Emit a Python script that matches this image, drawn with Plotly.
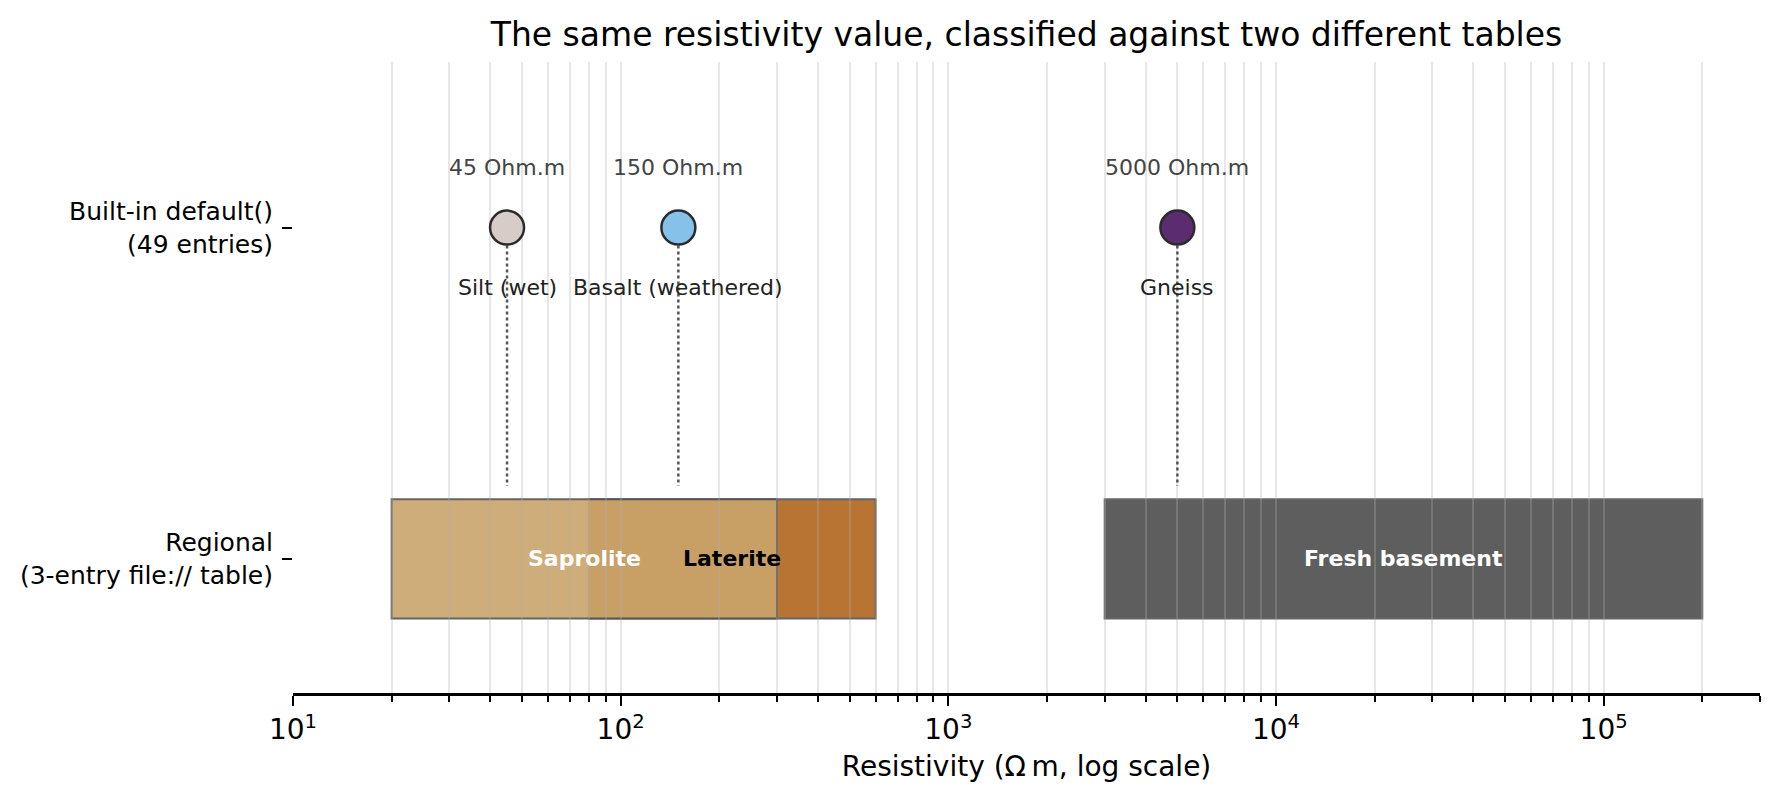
import numpy as np
import plotly.graph_objects as go

# values classified against the built-in table
values = [45, 150, 5000]
rock_names = ['Silt (wet)', 'Basalt (weathered)', 'Gneiss']
rock_colors = ['#d7ccc8', '#85c1e9', '#5b2c6f']

# regional 3-entry table (drawn in this order)
units = ['Laterite', 'Saprolite', 'Fresh basement']
unit_lo = [80, 20, 3000]
unit_hi = [600, 300, 200000]
unit_colors = ['#b1651d', '#caa56c', '#4d4d4d']
unit_text_colors = ['black', 'white', 'white']

row_labels = ['Regional<br>(3-entry file:// table)', 'Built-in default()<br>(49 entries)']
decades = [10, 100, 1000, 10000, 100000]
decade_labels = ['10<sup>1</sup>', '10<sup>2</sup>', '10<sup>3</sup>', '10<sup>4</sup>', '10<sup>5</sup>']

FONT = 'DejaVu Sans'
grid = 'rgba(175,175,175,0.3)'

fig = go.Figure()

# dotted guides from each point down to the regional row
for v in values:
    fig.add_trace(go.Scatter(x=[v, v], y=[1, 0.22], mode='lines',
                             line=dict(color='#555555', width=2.5, dash='dot'),
                             hoverinfo='skip', showlegend=False))

fig.add_trace(go.Scatter(x=values, y=[1] * len(values), mode='markers',
                         marker=dict(size=34, color=rock_colors,
                                     line=dict(color='#2b2b2b', width=2.5)),
                         showlegend=False))

for v, name in zip(values, rock_names):
    fig.add_annotation(x=np.log10(v), y=1.18, text=f'{v:g} Ohm.m', showarrow=False,
                       font=dict(size=22, color='#444444', family=FONT))
    fig.add_annotation(x=np.log10(v), y=0.82, text=name, showarrow=False,
                       font=dict(size=22, color='#222222', family=FONT))

for name, lo, hi, col, tcol in zip(units, unit_lo, unit_hi, unit_colors, unit_text_colors):
    fig.add_shape(type='rect', xref='x', yref='y', x0=lo, x1=hi, y0=-0.18, y1=0.18,
                  fillcolor=col, opacity=0.9, layer='below',
                  line=dict(color='#555555', width=2))
    fig.add_annotation(x=np.log10(np.sqrt(lo * hi)), y=0, text=f'<b>{name}</b>',
                       showarrow=False, font=dict(size=22, color=tcol, family=FONT))

minor_vals = [m * 10 ** d for d in range(1, 6) for m in range(2, 10) if m * 10 ** d <= 3e5]

# page body has an 8px margin, so the figure is 16px smaller than the window
fig.update_layout(
    width=1763, height=790,
    margin=dict(l=285, r=11, t=54, b=105),
    plot_bgcolor='white', paper_bgcolor='white',
    font=dict(family=FONT, color='black'),
    title=dict(text='The same resistivity value, classified against two different tables',
               x=0.5, xref='paper', xanchor='center', y=1 - 26 / 790, yref='container',
               yanchor='middle', font=dict(size=33, family=FONT, color='black')),
)
fig.update_xaxes(type='log', range=[1, np.log10(3e5)],
                 tickmode='array', tickvals=decades, ticktext=decade_labels,
                 showline=True, linecolor='black', linewidth=2.5,
                 ticks='outside', ticklen=10, tickwidth=2, tickcolor='black',
                 tickfont=dict(size=28), showgrid=True, gridcolor=grid, gridwidth=2,
                 zeroline=False,
                 minor=dict(tickmode='array', tickvals=minor_vals, ticks='outside', ticklen=6,
                            tickwidth=1.6, tickcolor='black', showgrid=True,
                            gridcolor=grid, gridwidth=2),
                 title=dict(text='Resistivity (\u03a9\u2009m, log scale)', font=dict(size=28),
                            standoff=12))
fig.update_yaxes(range=[-0.405, 1.5], tickvals=[0, 1], ticktext=row_labels,
                 showgrid=False, zeroline=False, showline=False,
                 ticks='outside', ticklen=10, tickwidth=2, tickcolor='black',
                 tickfont=dict(size=25), ticklabelstandoff=4)

fig.write_html('out.html')
